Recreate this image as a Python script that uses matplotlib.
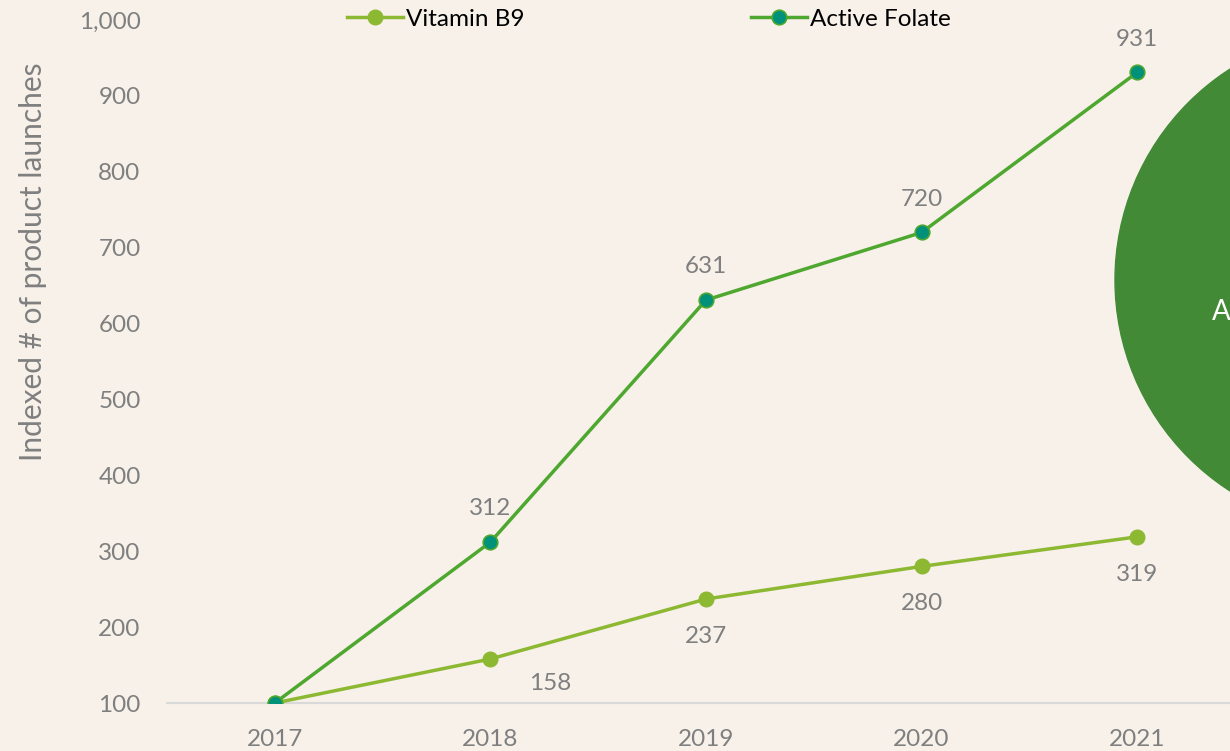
import matplotlib.pyplot as plt
from matplotlib.patches import Ellipse

# donnees
years = [2017, 2018, 2019, 2020, 2021]
vitamin_b9 = [100, 158, 237, 280, 319]
active_folate = [100, 312, 631, 720, 931]
yticks = list(range(100, 1001, 100))

bg = '#F7F1EA'
grey = '#7F7F7F'
plt.rcParams['font.family'] = ['Lato', 'DejaVu Sans']

fig = plt.figure(figsize=(12.3, 7.51), dpi=100, facecolor=bg)
ax = fig.add_axes([167 / 1230, 48 / 751, 1078 / 1230, 683 / 751], facecolor=bg)

ax.plot(years, vitamin_b9, color='#8DB832', lw=2.5, marker='o', ms=10.5,
        mfc='#8DB832', mec='#8DB832', label='Vitamin B9', zorder=3)
ax.plot(years, active_folate, color='#4EA72E', lw=2.5, marker='o', ms=10.5,
        mfc='#00917A', mec='#4EA72E', mew=1.2, label='Active Folate', zorder=4)

# etiquettes de valeurs
for i, (x, v) in enumerate(zip(years, active_folate)):
    if i == 0:
        continue
    ax.annotate(str(v), (x, v), xytext=(0, 24), textcoords='offset points',
                ha='center', va='center', fontsize=17.5, color=grey)
for i, (x, v) in enumerate(zip(years, vitamin_b9)):
    if i == 0:
        continue
    dx, dy = (43, -18) if i == 1 else (0, -27)
    ax.annotate(str(v), (x, v), xytext=(dx, dy), textcoords='offset points',
                ha='center', va='center', fontsize=17.5, color=grey)

ax.set_xlim(2016.5, 2021.5)
ax.set_ylim(100, 1000)
ax.set_xticks(years)
ax.set_yticks(yticks)
ax.set_yticklabels(['{:,}'.format(t) for t in yticks])
ax.tick_params(length=0, labelsize=17.5, labelcolor=grey)
ax.tick_params(axis='x', pad=19)
ax.tick_params(axis='y', pad=19)
for s in ['top', 'right', 'left']:
    ax.spines[s].set_visible(False)
ax.spines['bottom'].set_color('#D9D9D9')
ax.spines['bottom'].set_linewidth(1.5)

ax.set_ylabel('Indexed # of product launches', fontsize=21.5, color=grey)
ax.yaxis.set_label_coords(-0.111, 0.646)

fig.legend(loc='center', bbox_to_anchor=(649 / 1230, 1 - 19 / 751), ncol=2,
           frameon=False, fontsize=17.5, handlelength=2.3, handletextpad=0.15,
           columnspacing=9.3, labelcolor='black')

# grand cercle a droite
circ = Ellipse((1366 / 1230, 1 - 280 / 751), 502 / 1230, 502 / 751,
               transform=fig.transFigure, color='#438A36', zorder=10)
fig.add_artist(circ)
fig.text(1212 / 1230, 1 - 312 / 751, 'A', color='white', fontsize=20,
         ha='left', va='center', zorder=11)

fig.savefig('out.png', dpi=100, facecolor=bg)
